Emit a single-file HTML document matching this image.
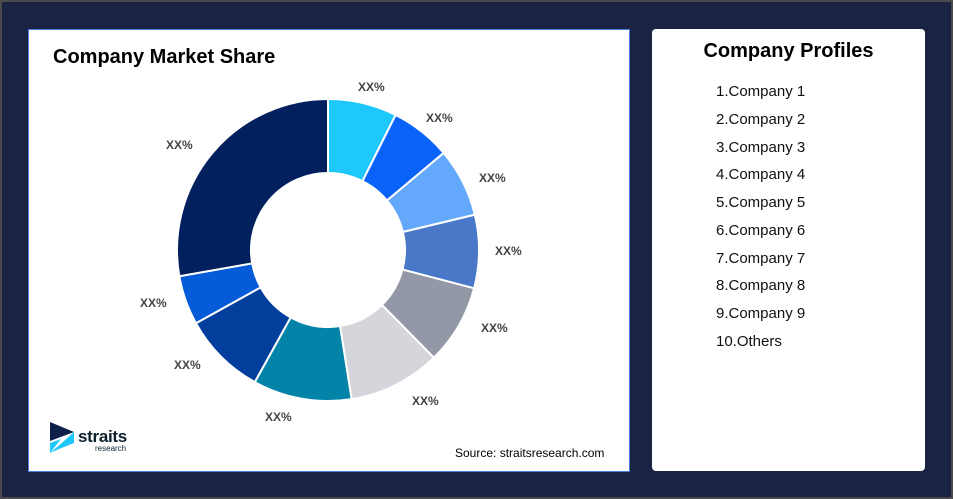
<!DOCTYPE html>
<html><head><meta charset="utf-8"><style>
body{margin:0;width:953px;height:499px;overflow:hidden;font-family:"Liberation Sans",sans-serif}
.outer{position:absolute;left:0;top:0;width:949px;height:495px;background:#1a2341;border:2px solid #4a4a4a}
.left{position:absolute;left:28px;top:29px;width:602px;height:443px;background:#fff;border:1px solid #4a7be0;box-sizing:border-box}
.right{position:absolute;left:652px;top:29px;width:273px;height:442px;background:#fff;border-radius:4px}
h1{position:absolute;left:53px;top:46px;margin:0;font-size:20px;font-weight:bold;color:#000}
h2{position:absolute;left:652px;width:273px;text-align:center;top:40px;margin:0;font-size:20px;font-weight:bold}
.li{position:absolute;left:716px;font-size:15px;color:#111}
.lab{position:absolute;font-size:12px;font-weight:bold;color:#444}
.src{position:absolute;left:455px;top:446px;font-size:12px;color:#000}
</style></head><body>
<div class="outer"></div>
<div class="left"></div>
<div class="right"></div>
<h1>Company Market Share</h1>
<h2>Company Profiles</h2>
<div class="li" style="top:83px">1.Company 1</div>
<div class="li" style="top:111px">2.Company 2</div>
<div class="li" style="top:139px">3.Company 3</div>
<div class="li" style="top:166px">4.Company 4</div>
<div class="li" style="top:194px">5.Company 5</div>
<div class="li" style="top:222px">6.Company 6</div>
<div class="li" style="top:250px">7.Company 7</div>
<div class="li" style="top:277px">8.Company 8</div>
<div class="li" style="top:305px">9.Company 9</div>
<div class="li" style="top:333px">10.Others</div>
<svg id="d" width="953" height="499" style="position:absolute;left:0;top:0"></svg>
<div class="lab" style="left:358px;top:80px">XX%</div>
<div class="lab" style="left:426px;top:111px">XX%</div>
<div class="lab" style="left:479px;top:171px">XX%</div>
<div class="lab" style="left:495px;top:244px">XX%</div>
<div class="lab" style="left:481px;top:321px">XX%</div>
<div class="lab" style="left:412px;top:394px">XX%</div>
<div class="lab" style="left:265px;top:410px">XX%</div>
<div class="lab" style="left:174px;top:358px">XX%</div>
<div class="lab" style="left:140px;top:296px">XX%</div>
<div class="lab" style="left:166px;top:138px">XX%</div>
<svg width="30" height="32" style="position:absolute;left:49px;top:421px">
<polygon points="1,1 25,11 1,20" fill="#0d1f4a"/><polygon points="1,32 15,20 25,11 25,22 10,28 1,32" fill="#1ec8fc"/><polygon points="1,22 12,18 1,32" fill="#1ec8fc"/>
</svg>
<div style="position:absolute;left:78px;top:427px;font-size:17px;font-weight:bold;color:#0d1f2a;letter-spacing:-0.3px">straits</div>
<div style="position:absolute;left:95px;top:444px;font-size:8px;color:#0d1f2a">research</div>
<div class="src">Source: straitsresearch.com</div>
<script>
var cx=328,cy=250,R=151,r=77;
var b=[0,26.6,50,76.5,104.7,135.5,171,209,241,260,360];
var c=["#1ec8fc","#0a63f8","#64a8fc","#4a78c8","#9298a6","#d4d6dc","#0383a8","#023f9c","#055bd8","#02205e"];
function p(a,rad){a=a*Math.PI/180;return (cx+rad*Math.sin(a)).toFixed(2)+","+(cy-rad*Math.cos(a)).toFixed(2);}
var s="";
for(var i=0;i<10;i++){var a0=b[i],a1=b[i+1],l=(a1-a0)>180?1:0;
s+='<path d="M'+p(a0,R)+' A'+R+','+R+' 0 '+l+' 1 '+p(a1,R)+' L'+p(a1,r)+' A'+r+','+r+' 0 '+l+' 0 '+p(a0,r)+' Z" fill="'+c[i]+'" stroke="#fff" stroke-width="2"/>';}
document.getElementById("d").innerHTML=s;
</script>
</body></html>
